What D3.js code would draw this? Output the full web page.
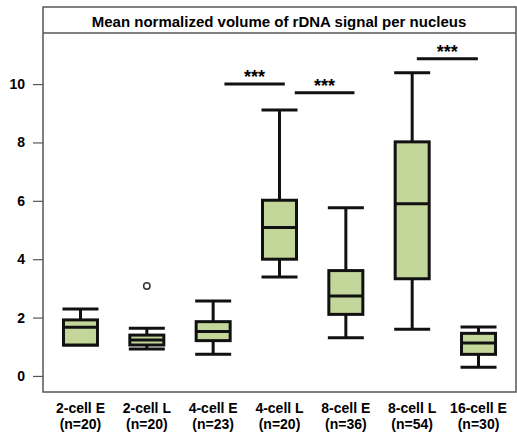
<!DOCTYPE html>
<html>
<head>
<meta charset="utf-8">
<script src="https://cdn.jsdelivr.net/npm/d3@7"></script>
<style>
  body { margin: 0; background: #fff; }
  svg text { font-family: "Liberation Sans", Arial, sans-serif; font-weight: bold; }
</style>
</head>
<body>
<svg id="chart" width="517" height="440"></svg>
<script>
// stage labels and group sizes
const stages = ['2-cell E', '2-cell L', '4-cell E', '4-cell L', '8-cell E', '8-cell L', '16-cell E'];
const counts = [20, 20, 23, 20, 36, 54, 30];

// box statistics
const whiskerLow = [1.06, 0.92, 0.74, 3.39, 1.31, 1.60, 0.30];
const q1 = [1.06, 1.06, 1.21, 4.00, 2.11, 3.33, 0.74];
const medians = [1.67, 1.23, 1.52, 5.09, 2.74, 5.90, 1.13];
const q3 = [1.92, 1.40, 1.86, 6.02, 3.61, 8.02, 1.46];
const whiskerHigh = [2.29, 1.63, 2.57, 9.11, 5.76, 10.39, 1.68];
const outliers = [[], [3.08], [], [], [], [], []];

// significance bars: start / end in category units, height
const sigStart = [2.17, 3.23, 5.07];
const sigEnd = [3.08, 4.13, 5.99];
const sigY = [10.0, 9.70, 10.87];

const yTicks = [0, 2, 4, 6, 8, 10];

const svg = d3.select('#chart');
const plotLeft = 43, plotRight = 516, plotTop = 7, stripH = 26, plotBottom = 392;

const x = d3.scalePoint().domain(stages).range([plotLeft, plotRight]).padding(0.565);
const xi = d3.scaleLinear().domain([0, stages.length - 1]).range([x(stages[0]), x(stages[stages.length - 1])]);
const y = d3.scaleLinear().domain([-0.55, 11.75]).range([plotBottom, plotTop + stripH]);

const boxW = 34;
const fill = '#c4d79b';

// frame + title strip
svg.append('rect')
    .attr('x', plotLeft).attr('y', plotTop)
    .attr('width', plotRight - plotLeft).attr('height', plotBottom - plotTop)
    .attr('fill', 'none').attr('stroke', '#555').attr('stroke-width', 1.5);
svg.append('line')
    .attr('x1', plotLeft).attr('x2', plotRight)
    .attr('y1', plotTop + stripH).attr('y2', plotTop + stripH)
    .attr('stroke', '#555').attr('stroke-width', 1.5);
svg.append('text')
    .attr('x', (plotLeft + plotRight) / 2 - 0.5).attr('y', plotTop + 20)
    .attr('text-anchor', 'middle')
    .style('font-size', '15px')
    .text('Mean normalized volume of rDNA signal per nucleus');

// y axis
const yAxis = svg.append('g')
    .attr('transform', `translate(${plotLeft},0)`)
    .call(d3.axisLeft(y).tickValues(yTicks).tickSize(10).tickPadding(8));
yAxis.select('.domain').remove();
yAxis.selectAll('.tick line').attr('stroke', '#555').attr('stroke-width', 1.2);
yAxis.selectAll('.tick text')
    .style('font-size', '14px')
    .style('font-family', '"Liberation Sans", Arial, sans-serif')
    .style('font-weight', 'bold')
    .attr('fill', '#000');

// x labels (two lines)
const xl = svg.append('g');
stages.forEach((s, i) => {
    xl.append('text')
        .attr('x', x(s)).attr('y', 413)
        .attr('text-anchor', 'middle')
        .style('font-size', '14px')
        .text(s);
    xl.append('text')
        .attr('x', x(s)).attr('y', 429)
        .attr('text-anchor', 'middle')
        .style('font-size', '14px')
        .text(`(n=${counts[i]})`);
});

// boxes
const boxes = svg.append('g')
    .attr('stroke', '#111').attr('stroke-width', 3);
stages.forEach((s, i) => {
    const cx = x(s);
    const g = boxes.append('g');
    // whiskers
    g.append('line')
        .attr('x1', cx).attr('x2', cx)
        .attr('y1', y(q3[i])).attr('y2', y(whiskerHigh[i]));
    g.append('line')
        .attr('x1', cx).attr('x2', cx)
        .attr('y1', y(q1[i])).attr('y2', y(whiskerLow[i]));
    // caps
    [whiskerHigh[i], whiskerLow[i]].forEach(v => {
        g.append('line')
            .attr('x1', cx - boxW / 2 - 1).attr('x2', cx + boxW / 2 + 1)
            .attr('y1', y(v)).attr('y2', y(v));
    });
    g.append('rect')
        .attr('x', cx - boxW / 2).attr('width', boxW)
        .attr('y', y(q3[i])).attr('height', y(q1[i]) - y(q3[i]))
        .attr('fill', fill);
    g.append('line')
        .attr('x1', cx - boxW / 2).attr('x2', cx + boxW / 2)
        .attr('y1', y(medians[i])).attr('y2', y(medians[i]));
    outliers[i].forEach(v => {
        g.append('circle')
            .attr('cx', cx).attr('cy', y(v)).attr('r', 3.2)
            .attr('fill', 'none').attr('stroke', '#333').attr('stroke-width', 1.5);
    });
});

// significance bars
const sig = svg.append('g');
sigY.forEach((v, i) => {
    sig.append('line')
        .attr('x1', xi(sigStart[i])).attr('x2', xi(sigEnd[i]))
        .attr('y1', y(v)).attr('y2', y(v))
        .attr('stroke', '#111').attr('stroke-width', 3);
    sig.append('text')
        .attr('x', (xi(sigStart[i]) + xi(sigEnd[i])) / 2)
        .attr('y', y(v) - 1)
        .attr('text-anchor', 'middle')
        .style('font-size', '18px')
        .text('***');
});
</script>
</body>
</html>
